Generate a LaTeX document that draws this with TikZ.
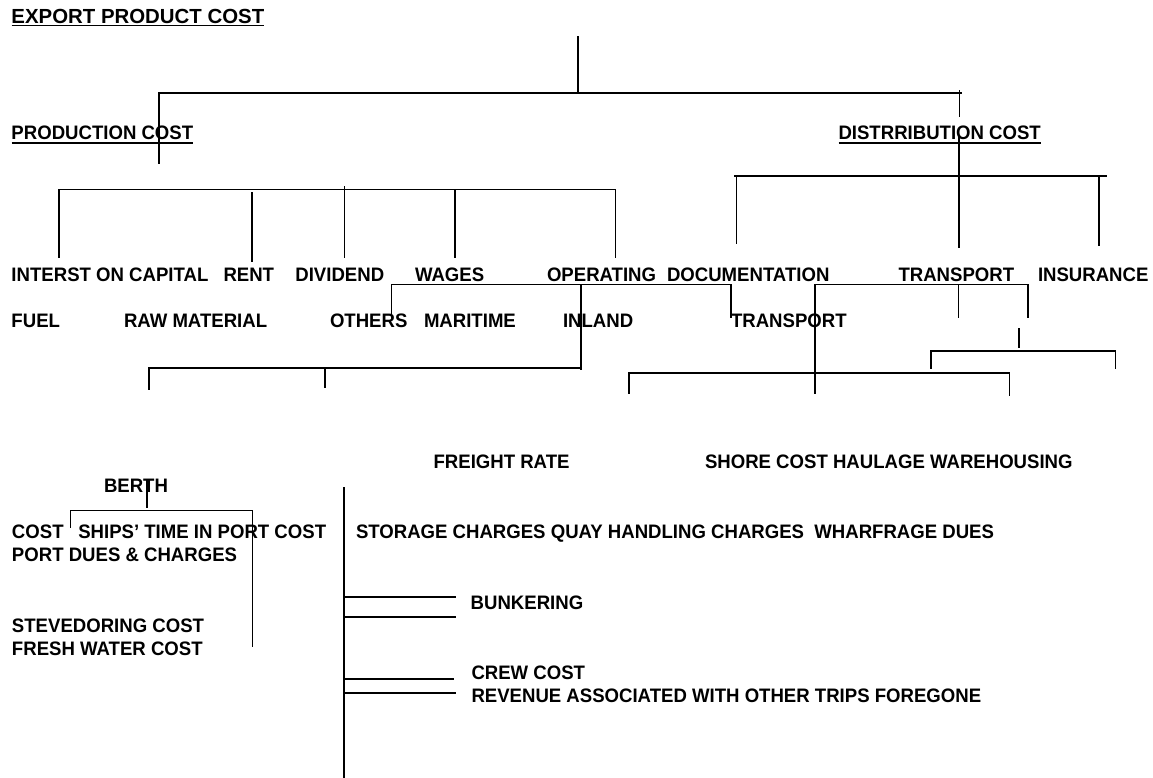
\documentclass[tikz,border=0pt]{standalone}
\usepackage{fontspec}
\newfontfamily\lbfont[FakeStretch=0.953]{Liberation Sans Bold}
\newfontfamily\tbfont{Liberation Sans Bold}
\newcommand\lblfont{\lbfont\fontsize{19.5pt}{22pt}\selectfont}
\newcommand\ttlfont{\tbfont\fontsize{20.4pt}{22pt}\selectfont}
\tikzset{
  lbl/.style={anchor=base west, inner sep=0pt, outer sep=0pt, font=\lblfont},
  ttl/.style={anchor=base west, inner sep=0pt, outer sep=0pt, font=\ttlfont},
  ln/.style={line width=1.7pt, line cap=rect},
  uln/.style={line width=1.4pt}
}
\begin{document}
\begin{tikzpicture}[x=1pt,y=-1pt]
\useasboundingbox[fill=white] (0,0) rectangle (1153,778);

% ---------- texts ----------
\node[ttl] (title) at (11.5,23.3) {EXPORT PRODUCT COST};
\node[lbl] (prod) at (11.5,140) {PRODUCTION COST};
\node[lbl] (dist) at (838.5,140) {DISTRRIBUTION COST};

\node[lbl] (interest) at (11.5,281) {INTERST ON CAPITAL};
\node[lbl] (rent) at (223.5,281) {RENT};
\node[lbl] (dividend) at (295.4,281) {DIVIDEND};
\node[lbl] (wages) at (415,281) {WAGES};
\node[lbl] (operating) at (547,281) {OPERATING};
\node[lbl] (docu) at (667,281) {DOCUMENTATION};
\node[lbl] (transport) at (898.5,281) {TRANSPORT};
\node[lbl] (insurance) at (1038,281) {INSURANCE};

\node[lbl] (fuel) at (11.5,327) {FUEL};
\node[lbl] (raw) at (124,327) {RAW MATERIAL};
\node[lbl] (others) at (330,327) {OTHERS};
\node[lbl] (maritime) at (424,327) {MARITIME};
\node[lbl] (inland) at (563,327) {INLAND};
\node[lbl] (transport2) at (731,327) {TRANSPORT};

\node[lbl] (freight) at (433.6,468.3) {FREIGHT RATE};
\node[lbl] (shore) at (705,468.3) {SHORE COST HAULAGE WAREHOUSING};
\node[lbl] (berth) at (104,492.4) {BERTH};
\node[lbl] (cost) at (12,538.3) {COST};
\node[lbl] (ships) at (78.3,538.3) {SHIPS’ TIME IN PORT COST};
\node[lbl] (storage) at (356,538.3) {STORAGE CHARGES QUAY HANDLING CHARGES\ \ WHARFRAGE DUES};
\node[lbl] (portdues) at (12,561.7) {PORT DUES \& CHARGES};
\node[lbl] (bunker) at (470.7,609.3) {BUNKERING};
\node[lbl] (steve) at (12,632.7) {STEVEDORING COST};
\node[lbl] (fresh) at (12,655) {FRESH WATER COST};
\node[lbl] (crew) at (471.5,679.3) {CREW COST};
\node[lbl] (revenue) at (471.5,702.6) {REVENUE ASSOCIATED WITH OTHER TRIPS FOREGONE};

% underlines
\draw[uln] ([yshift=-2.2pt]title.base west) -- ([yshift=-2.2pt]title.base east);
\draw[uln] ([yshift=-3pt]prod.base west) -- ([yshift=-3pt]prod.base east);
\draw[uln] ([yshift=-3pt]dist.base west) -- ([yshift=-3pt]dist.base east);

% ---------- coordinates ----------
\coordinate (top1) at (578,37);
\coordinate (top2) at (578,92.7);
\coordinate (h1L) at (159,92.7);
\coordinate (h1R) at (961,92.7);
\coordinate (pv) at (159,163.3);
\coordinate (dvA) at (959.5,90.5);
\coordinate (dvB) at (959.5,116);
\coordinate (dvC) at (959,136.7);
\coordinate (dvD) at (959,246.7);
\coordinate (dhL) at (734.6,175.7);
\coordinate (dhR) at (1105.8,175.7);
\coordinate (phL) at (59.3,189.5);
\coordinate (phR) at (615.4,189.5);

% ---------- level 1 ----------
\draw[ln] (top1) -- (top2);
\draw[ln] (h1L) -- (h1R);
\draw[ln] (h1L) -- (pv);
\draw[ln] (dvA) -- (dvB);
\draw[ln] (dvC) -- (dvD);

% distribution bracket
\draw[ln] (dhL) -- (dhR);
\draw[ln] (736.5,175.7) -- (736.5,243.3);
\draw[ln] (1099,175.7) -- (1099,245);

% production bracket
\draw[ln] (phL) -- (phR);
\draw[ln] (phL) -- (59.3,257.3);
\draw[ln] (252,192.7) -- (252,261);
\draw[ln] (344.4,187.3) -- (344.4,256.7);
\draw[ln] (455,189.5) -- (455,257);
\draw[ln] (phR) -- (615.4,256.7);

% ---------- level 2 ----------
\coordinate (oL) at (391.5,284.5);
\coordinate (oR) at (731,284.5);
\draw[ln] (oL) -- (oR);
\draw[ln] (oL) -- (391.5,318);
\draw[ln] (581,284.5) -- (581,369.5);
\draw[ln] (oR) -- (731,316.7);

\coordinate (iL) at (149,367.7);
\coordinate (iR) at (581,367.7);
\draw[ln] (iL) -- (iR);
\draw[ln] (iL) -- (149,389.3);
\draw[ln] (325,367.7) -- (325,387);

\coordinate (tL) at (815,284.5);
\coordinate (tR) at (1028,284.5);
\draw[ln] (tL) -- (tR);
\draw[ln] (tL) -- (815,393);
\draw[ln] (958.5,284.5) -- (958.5,316.7);
\draw[ln] (tR) -- (1028,317.3);

\draw[ln] (1019,329) -- (1019,346.7);
\coordinate (sL) at (931,350.7);
\coordinate (sR) at (1115.4,350.7);
\draw[ln] (sL) -- (sR);
\draw[ln] (sL) -- (931,367.7);
\draw[ln] (sR) -- (1115.4,367.7);

\coordinate (fL) at (628.8,373.3);
\coordinate (fR) at (1009.6,373.3);
\draw[ln] (fL) -- (fR);
\draw[ln] (fL) -- (628.8,393);
\draw[ln] (fR) -- (1009.6,395);

% ---------- lower part ----------
\draw[ln] (147,480.7) -- (147,506.7);
\coordinate (bL) at (70.5,510.5);
\coordinate (bR) at (252.5,510.5);
\draw[ln] (bL) -- (bR);
\draw[ln] (bL) -- (70.5,526.7);
\draw[ln] (bR) -- (252.5,646);

\coordinate (mvT) at (344.3,488.3);
\coordinate (mvB) at (344.3,777);
\draw[ln] (mvT) -- (mvB);
\draw[ln] (344.3,596.7) -- (455.4,596.7);
\draw[ln] (344.3,616.7) -- (455.4,616.7);
\draw[ln] (344.3,679.3) -- (453,679.3);
\draw[ln] (344.3,693) -- (455.5,693);
\end{tikzpicture}
\end{document}
